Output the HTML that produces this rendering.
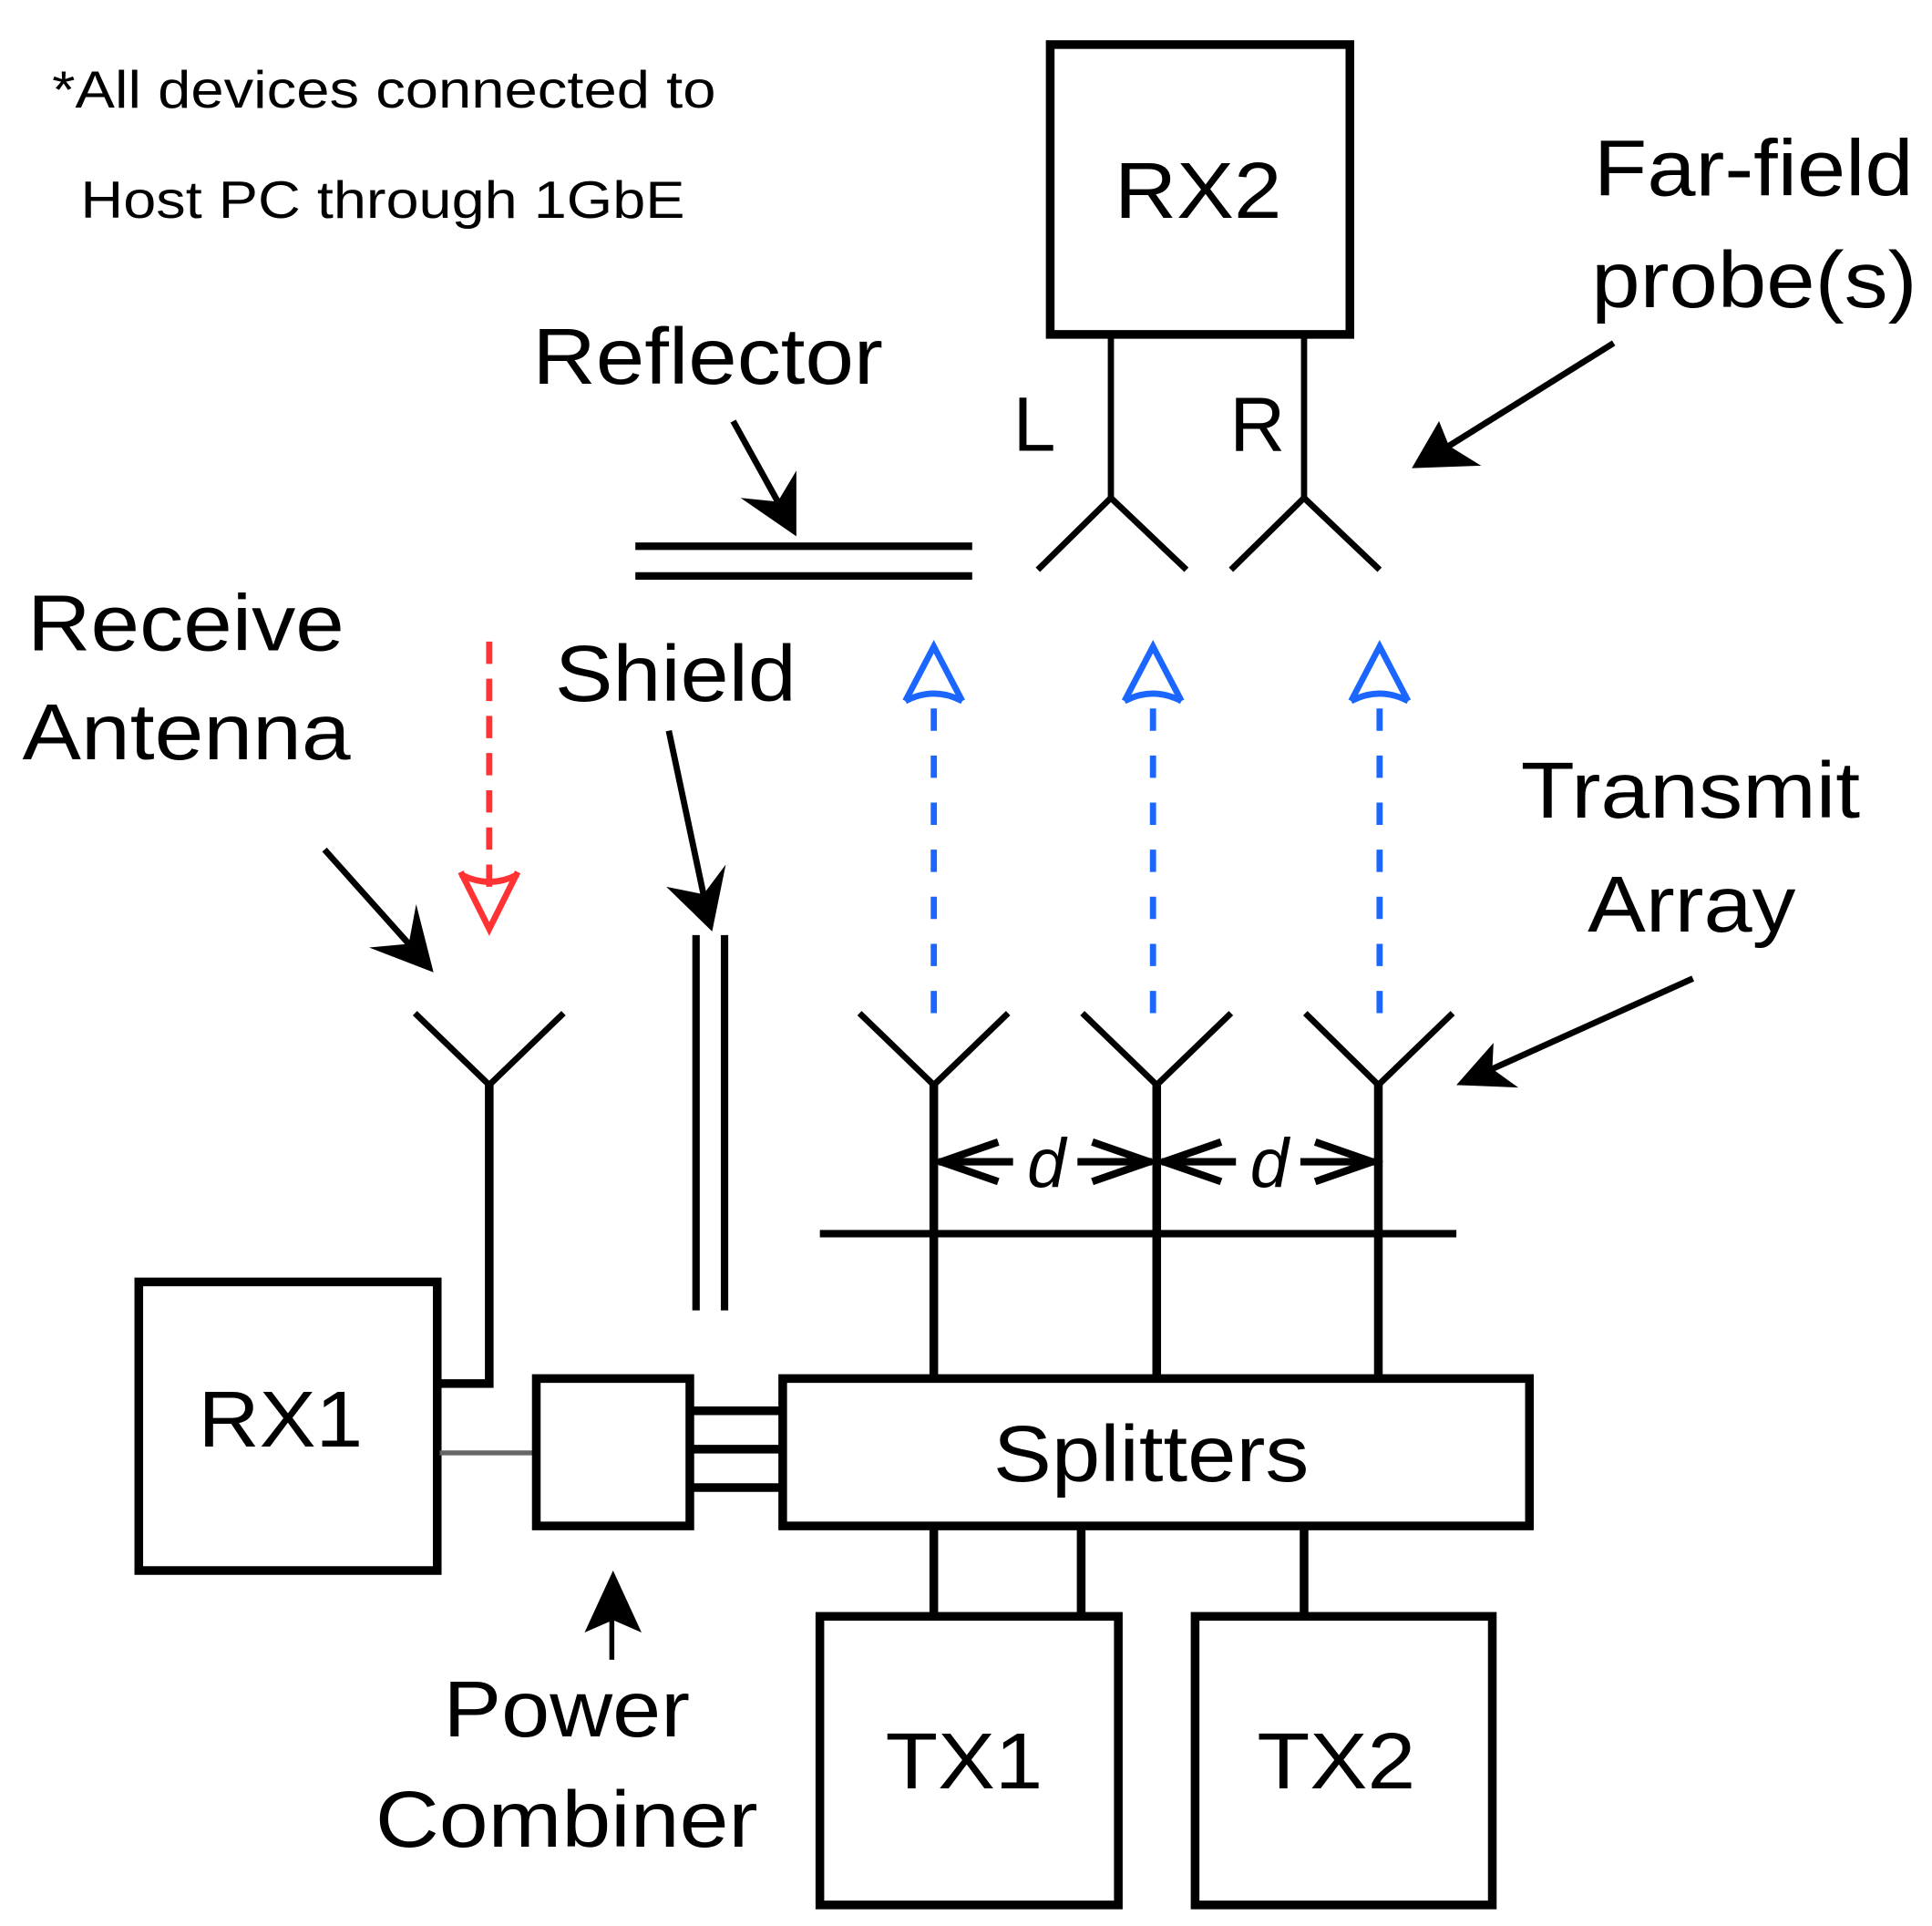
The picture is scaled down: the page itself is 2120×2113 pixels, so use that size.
<!DOCTYPE html>
<html><head><meta charset="utf-8"><style>
html,body{margin:0;padding:0;background:#fff;}
svg{display:block;}
text{font-family:"Liberation Sans",Arial,sans-serif;fill:#000;}
</style></head><body>
<svg width="2120" height="2113" viewBox="0 0 1560 1555" xmlns="http://www.w3.org/2000/svg">
<rect width="1560" height="1555" fill="#fff"/>
<!-- note -->
<text x="42" y="87" font-size="42" fill="#222" textLength="536" lengthAdjust="spacingAndGlyphs">*All devices connected to</text>
<text x="65" y="176" font-size="42" fill="#222" textLength="488" lengthAdjust="spacingAndGlyphs">Host PC through 1GbE</text>

<!-- RX2 -->
<rect x="848" y="36" width="242" height="234" fill="none" stroke="#000" stroke-width="7"/>
<text x="900" y="176" font-size="64" textLength="135" lengthAdjust="spacingAndGlyphs">RX2</text>
<line x1="897" y1="270" x2="897" y2="402" stroke="#000" stroke-width="5"/>
<line x1="1053" y1="270" x2="1053" y2="402" stroke="#000" stroke-width="5"/>
<polyline points="838,460 897,402 958,460" fill="none" stroke="#000" stroke-width="5"/>
<polyline points="994,460 1053,402 1114,460" fill="none" stroke="#000" stroke-width="5"/>
<text x="818" y="364" font-size="62">L</text>
<text x="993" y="364" font-size="62">R</text>

<text x="1287" y="158" font-size="64" textLength="258" lengthAdjust="spacingAndGlyphs">Far-field</text>
<text x="1285" y="248" font-size="64" textLength="263" lengthAdjust="spacingAndGlyphs">probe(s)</text>
<line x1="1303" y1="277" x2="1170" y2="360" stroke="#000" stroke-width="5"/>
<polygon points="1140,378 1162,340 1170,360 1196,376" fill="#000"/>

<!-- Reflector -->
<text x="430" y="310" font-size="64" textLength="283" lengthAdjust="spacingAndGlyphs">Reflector</text>
<line x1="592" y1="340" x2="628" y2="405" stroke="#000" stroke-width="5"/>
<polygon points="643,433 598,402 628,405 643,380" fill="#000"/>
<line x1="513" y1="441" x2="785" y2="441" stroke="#000" stroke-width="6"/>
<line x1="513" y1="465" x2="785" y2="465" stroke="#000" stroke-width="6"/>

<!-- Receive antenna -->
<text x="22" y="525" font-size="64" textLength="256" lengthAdjust="spacingAndGlyphs">Receive</text>
<text x="18" y="613" font-size="64" textLength="265" lengthAdjust="spacingAndGlyphs">Antenna</text>
<line x1="262" y1="686" x2="330" y2="762" stroke="#000" stroke-width="5"/>
<polygon points="350,785 298,765 330,762 336,730" fill="#000"/>
<line x1="395" y1="518" x2="395" y2="728" stroke="#f33" stroke-width="5" stroke-dasharray="18,12"/>
<polyline points="372,704 395,750 418,704" fill="none" stroke="#f33" stroke-width="5"/>
<path d="M372,706 Q395,718 418,706" fill="none" stroke="#f33" stroke-width="5"/>

<!-- Shield -->
<text x="448" y="566" font-size="64" textLength="195" lengthAdjust="spacingAndGlyphs">Shield</text>
<line x1="540" y1="590" x2="568" y2="722" stroke="#000" stroke-width="5"/>
<polygon points="575,752 538,716 568,722 586,698" fill="#000"/>
<line x1="562" y1="755" x2="562" y2="1058" stroke="#000" stroke-width="6"/>
<line x1="585" y1="755" x2="585" y2="1058" stroke="#000" stroke-width="6"/>

<!-- blue arrows -->
<g stroke="#1a66ff" stroke-width="5" fill="none">
<line x1="754" y1="818" x2="754" y2="560" stroke-dasharray="18,20"/>
<line x1="931" y1="818" x2="931" y2="560" stroke-dasharray="18,20"/>
<line x1="1114" y1="818" x2="1114" y2="560" stroke-dasharray="18,20"/>
<polyline points="731,566 754,522 777,566"/><path d="M731,566 Q754,554 777,566"/>
<polyline points="908,566 931,522 954,566"/><path d="M908,566 Q931,554 954,566"/>
<polyline points="1091,566 1114,522 1137,566"/><path d="M1091,566 Q1114,554 1137,566"/>
</g>

<text x="1228" y="660" font-size="64" textLength="274" lengthAdjust="spacingAndGlyphs">Transmit</text>
<text x="1282" y="752" font-size="64" textLength="168" lengthAdjust="spacingAndGlyphs">Array</text>
<line x1="1367" y1="790" x2="1205" y2="863" stroke="#000" stroke-width="5"/>
<polygon points="1176,876 1206,842 1205,863 1226,878" fill="#000"/>

<!-- antennas -->
<g fill="none" stroke="#000" stroke-width="5">
<polyline points="335,818 395,876 455,818"/>
<polyline points="694,818 754,876 814,818"/>
<polyline points="874,818 934,876 994,818"/>
<polyline points="1054,818 1113,876 1173,818"/>
</g>
<g stroke="#000" stroke-width="7" fill="none">
<line x1="754" y1="874" x2="754" y2="1115"/>
<line x1="934" y1="874" x2="934" y2="1115"/>
<line x1="1113" y1="874" x2="1113" y2="1115"/>
<polyline points="395,874 395,1117 355,1117"/>
</g>
<line x1="662" y1="996" x2="1176" y2="996" stroke="#000" stroke-width="6"/>

<!-- d arrows -->
<g stroke="#000" stroke-width="6" fill="none">
<line x1="758" y1="938" x2="818" y2="938"/>
<line x1="870" y1="938" x2="930" y2="938"/>
<line x1="938" y1="938" x2="998" y2="938"/>
<line x1="1050" y1="938" x2="1110" y2="938"/>
<polyline points="806,922 760,938 806,954"/>
<polyline points="882,922 928,938 882,954"/>
<polyline points="986,922 940,938 986,954"/>
<polyline points="1062,922 1108,938 1062,954"/>
</g>
<text x="845" y="958" font-size="56" font-style="italic" text-anchor="middle">d</text>
<text x="1025" y="958" font-size="56" font-style="italic" text-anchor="middle">d</text>

<!-- RX1 -->
<rect x="112" y="1035" width="241" height="233" fill="none" stroke="#000" stroke-width="7"/>
<text x="160" y="1168" font-size="64" textLength="133" lengthAdjust="spacingAndGlyphs">RX1</text>
<line x1="355" y1="1173" x2="433" y2="1173" stroke="#666" stroke-width="4"/>

<!-- combiner -->
<rect x="433" y="1113" width="124" height="119" fill="none" stroke="#000" stroke-width="7"/>
<g stroke="#000" stroke-width="7">
<line x1="557" y1="1139" x2="632" y2="1139"/>
<line x1="557" y1="1170" x2="632" y2="1170"/>
<line x1="557" y1="1201" x2="632" y2="1201"/>
</g>
<!-- splitters -->
<rect x="632" y="1113" width="603" height="119" fill="none" stroke="#000" stroke-width="7"/>
<text x="802" y="1196" font-size="64" textLength="255" lengthAdjust="spacingAndGlyphs">Splitters</text>
<g stroke="#000" stroke-width="7">
<line x1="754" y1="1232" x2="754" y2="1305"/>
<line x1="873" y1="1232" x2="873" y2="1305"/>
<line x1="1053" y1="1232" x2="1053" y2="1305"/>
</g>
<!-- power combiner label -->
<line x1="494" y1="1340" x2="494" y2="1300" stroke="#000" stroke-width="4"/>
<polygon points="495,1268 472,1318 495,1308 518,1318" fill="#000"/>
<text x="358" y="1402" font-size="64" textLength="199" lengthAdjust="spacingAndGlyphs">Power</text>
<text x="303" y="1491" font-size="64" textLength="309" lengthAdjust="spacingAndGlyphs">Combiner</text>

<!-- TX -->
<rect x="662" y="1305" width="241" height="233" fill="none" stroke="#000" stroke-width="7"/>
<rect x="965" y="1305" width="240" height="233" fill="none" stroke="#000" stroke-width="7"/>
<text x="715" y="1444" font-size="64" textLength="127" lengthAdjust="spacingAndGlyphs">TX1</text>
<text x="1015" y="1444" font-size="64" textLength="128" lengthAdjust="spacingAndGlyphs">TX2</text>
</svg>
</body></html>
